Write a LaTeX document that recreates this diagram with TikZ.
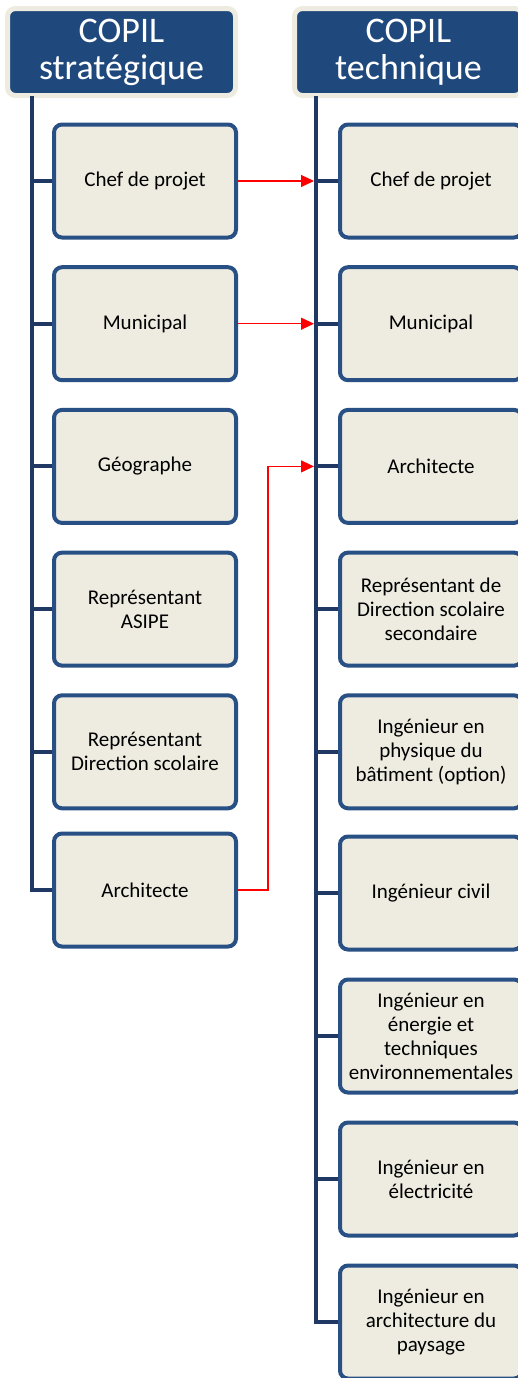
\documentclass[tikz,border=0pt]{standalone}
\usepackage{fontspec}
\setmainfont{Carlito}
\usetikzlibrary{arrows.meta}
\usepackage{xcolor}

\definecolor{copilblue}{RGB}{31,73,125}
\definecolor{boxblue}{RGB}{40,80,132}
\definecolor{trunkblue}{RGB}{31,56,100}
\definecolor{paper}{RGB}{238,236,225}

\begin{document}
\begin{tikzpicture}[
x=0.5pt, y=-0.5pt,
copil/.style={
	rectangle, rounded corners=4pt,
	draw=paper, line width=2.5pt, fill=copilblue,
	minimum width=114pt, minimum height=43.5pt,
	inner sep=0pt, text=white, align=center,
	font=\fontsize{18}{18.5}\selectfont,
},
member/.style={
	rectangle, rounded corners=4pt,
	draw=boxblue, line width=2pt, fill=paper,
	minimum width=91pt, minimum height=56.5pt,
	inner sep=0pt, align=center,
	font=\fontsize{10.5}{12}\selectfont,
},
trunk/.style={draw=trunkblue, line width=2pt},
link/.style={draw=red, line width=0.6pt, -{Triangle[length=6.5pt,width=6pt]}},
]
\useasboundingbox (0,0) rectangle (518,1378);

% headers
\node[copil] (strat) at (121.5,52) {COPIL\\strat\'egique};
\node[copil] (tech) at (408.5,52) {COPIL\\technique};

% COPIL strategique
\node[member] (s1) at (145,181) {Chef de projet};
\node[member] (s2) at (145,323.7) {Municipal};
\node[member] (s3) at (145,466.4) {Géographe};
\node[member] (s4) at (145,609.1) {Représentant\\ASIPE};
\node[member] (s5) at (145,751.8) {Représentant\\Direction scolaire};
\node[member] (s6) at (145,890) {Architecte};

% COPIL technique
\node[member] (t1) at (431,181) {Chef de projet};
\node[member] (t2) at (431,323.7) {Municipal};
\node[member] (t3) at (431,466.4) {Architecte};
\node[member] (t4) at (431,609.1) {Représentant de\\Direction scolaire\\secondaire};
\node[member] (t5) at (431,751.8) {Ingénieur en\\physique du\\bâtiment (option)};
\node[member] (t6) at (431,893) {Ingénieur civil};
\node[member] (t7) at (431,1036) {Ingénieur en\\énergie et\\techniques\\environnementales};
\node[member] (t8) at (431,1179) {Ingénieur en\\électricité};
\node[member] (t9) at (431,1322) {Ingénieur en\\architecture du\\paysage};

% spines
\coordinate (spineS) at (32,96);
\coordinate (spineT) at (316,96);
\draw[trunk] (spineS) |- (s6.west);
\foreach \n in {s1,s2,s3,s4,s5}
	\draw[trunk] (spineS |- \n) -- (\n.west);
\draw[trunk] (spineT) |- (t9.west);
\foreach \n in {t1,t2,t3,t4,t5,t6,t7,t8}
	\draw[trunk] (spineT |- \n) -- (\n.west);

% links
\draw[link] (s1.east) -- ([xshift=-1pt]spineT |- s1);
\draw[link] (s2.east) -- ([xshift=-1pt]spineT |- s2);
\draw[link] (s6.east) -- ++(30,0) |- ([xshift=-1pt]spineT |- t3);
\end{tikzpicture}
\end{document}
